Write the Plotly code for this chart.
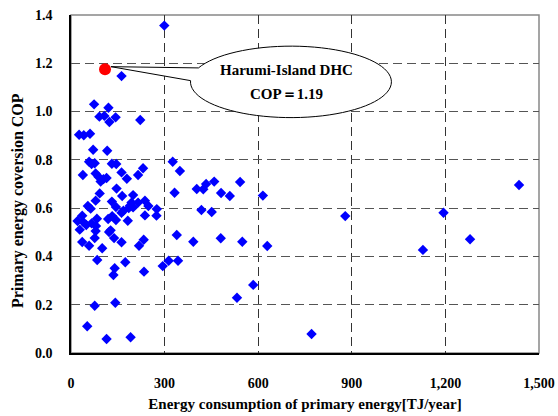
import math
import plotly.graph_objects as go

# ---- data ----
energy_tj = [299, 162, 74, 120, 91, 107, 123, 143, 222, 26, 41, 61, 71, 116, 58, 66, 76, 131, 145,
             326, 349, 38, 79, 88, 95, 104, 114, 162, 179, 215, 231, 332, 403, 424, 433, 459, 481,
             509, 542, 615, 146, 92, 164, 199, 194, 189, 185, 199, 215, 79, 131, 144, 54, 63, 237,
             248, 275, 274, 237, 162, 168, 418, 451, 36, 21, 39, 49, 66, 83, 119, 132, 144, 182,
             80, 79, 76, 28, 122, 127, 138, 36, 58, 100, 162, 218, 233, 339, 392, 480, 549, 629,
             84, 174, 140, 136, 234, 294, 313, 343, 584, 532, 76, 142, 52, 114, 191, 1436, 879,
             1194, 1279, 1128, 771]
cop = [1.356, 1.147, 1.03, 1.016, 0.979, 0.982, 0.957, 0.976, 0.965, 0.904, 0.902, 0.908, 0.842,
       0.838, 0.792, 0.783, 0.786, 0.784, 0.783, 0.792, 0.754, 0.737, 0.744, 0.730, 0.710, 0.720,
       0.725, 0.748, 0.722, 0.737, 0.765, 0.664, 0.679, 0.678, 0.700, 0.710, 0.663, 0.650, 0.708,
       0.652, 0.681, 0.661, 0.650, 0.654, 0.623, 0.610, 0.600, 0.603, 0.623, 0.631, 0.627, 0.605,
       0.609, 0.598, 0.631, 0.609, 0.596, 0.569, 0.570, 0.581, 0.589, 0.592, 0.584, 0.569, 0.547,
       0.543, 0.530, 0.537, 0.556, 0.555, 0.567, 0.551, 0.548, 0.526, 0.505, 0.476, 0.511, 0.501,
       0.508, 0.476, 0.460, 0.444, 0.434, 0.459, 0.444, 0.469, 0.489, 0.461, 0.475, 0.461, 0.443,
       0.385, 0.376, 0.351, 0.323, 0.337, 0.360, 0.382, 0.382, 0.282, 0.229, 0.196, 0.208, 0.111,
       0.058, 0.065, 0.696, 0.567, 0.581, 0.471, 0.427, 0.079]

harumi_energy = [109]
harumi_cop = [1.175]
callout_lines = ["Harumi-Island DHC", "COP\uff1d1.19"]

x_ticks = [0, 300, 600, 900, 1200, 1500]
x_tick_labels = ["0", "300", "600", "900", "1,200", "1,500"]
y_ticks = [0.0, 0.2, 0.4, 0.6, 0.8, 1.0, 1.2, 1.4]
y_tick_labels = ["0.0", "0.2", "0.4", "0.6", "0.8", "1.0", "1.2", "1.4"]

FONT = "Liberation Serif"

fig = go.Figure()
fig.add_trace(go.Scatter(x=energy_tj, y=cop, mode="markers",
                         marker=dict(symbol="diamond", size=8, color="#0000FF"),
                         showlegend=False, cliponaxis=False))
fig.add_trace(go.Scatter(x=harumi_energy, y=harumi_cop, mode="markers",
                         marker=dict(symbol="circle", size=12, color="#FF0000"),
                         showlegend=False))

# ---- callout (ellipse with a wedge pointing at the Harumi point) ----
cx, cy, rx, ry = 705, 1.123, 322, 0.148
a1, a2 = math.radians(157), math.radians(178)
tip_x, tip_y = 128, 1.186
pts = [(cx + rx * math.cos(a1), cy + ry * math.sin(a1)), (tip_x, tip_y),
       (cx + rx * math.cos(a2), cy + ry * math.sin(a2))]
n = 80
for i in range(1, n + 1):
    a = a2 + (a1 + 2 * math.pi - a2) * i / n
    pts.append((cx + rx * math.cos(a), cy + ry * math.sin(a)))
path = "M " + " L ".join(f"{px:.3f},{py:.5f}" for px, py in pts) + " Z"
fig.add_shape(type="path", path=path, xref="x", yref="y",
              line=dict(color="black", width=1), fillcolor="white", layer="above")
fig.add_annotation(x=cx - 15, y=cy + 0.048, xref="x", yref="y", text=callout_lines[0],
                   showarrow=False, font=dict(family=FONT, size=15, color="black", weight="bold"))
fig.add_annotation(x=cx - 15, y=cy - 0.05, xref="x", yref="y", text=callout_lines[1],
                   showarrow=False, font=dict(family=FONT, size=15, color="black", weight="bold"))

# frame
fig.add_shape(type="rect", xref="paper", yref="paper", x0=0, y0=0, x1=1, y1=1,
              line=dict(color="#888888", width=1.5), layer="below")

# y title as annotation
fig.add_annotation(x=-0.113, y=0.45, xref="paper", yref="paper",
                   xanchor="center", yanchor="middle",
                   text="Primary energy coversion COP", textangle=-90, showarrow=False,
                   font=dict(family=FONT, size=16, color="black", weight="bold"))

fig.update_layout(
    width=558, height=416,
    margin=dict(l=71, r=19, t=15, b=63, autoexpand=False),
    paper_bgcolor="white", plot_bgcolor="white",
    font=dict(family=FONT, color="black"),
    xaxis=dict(range=[0, 1500], tickvals=x_ticks, ticktext=x_tick_labels,
               automargin=False,
               showgrid=True, gridcolor="#333333", griddash="9px,5px", gridwidth=1,
               showline=True, linecolor="black", linewidth=1.5,
               ticks="outside", ticklen=16, tickcolor="rgba(0,0,0,0)",
               tickfont=dict(family=FONT, size=14, color="black", weight="bold"),
               title=dict(text="Energy consumption of primary energy[TJ/year]",
                          font=dict(family=FONT, size=15, color="black", weight="bold"),
                          standoff=9),
               zeroline=False),
    yaxis=dict(range=[0, 1.4], tickvals=y_ticks, ticktext=y_tick_labels,
               automargin=False,
               showgrid=True, gridcolor="#555555", griddash="9px,5px", gridwidth=1,
               showline=True, linecolor="black", linewidth=1.5,
               ticks="outside", ticklen=14, tickcolor="rgba(0,0,0,0)",
               tickfont=dict(family=FONT, size=14, color="black", weight="bold"),
               zeroline=False),
)

fig.write_html("out.html", config={"displayModeBar": False},
               post_script="document.body.style.margin='0';document.body.style.padding='0';")
